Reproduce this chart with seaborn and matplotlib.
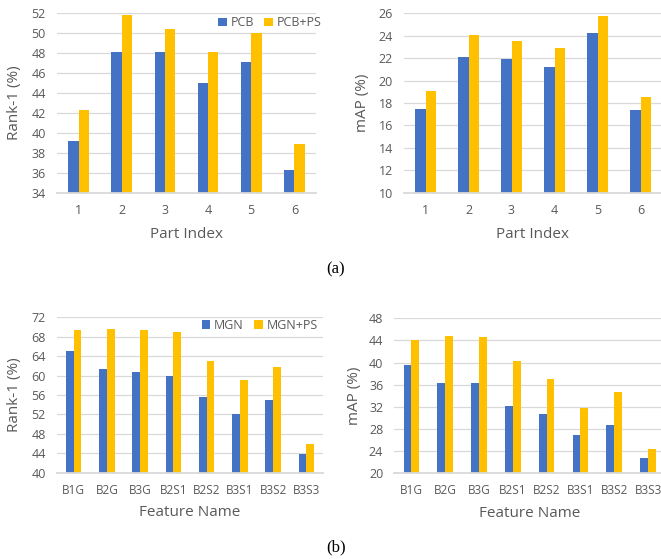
import matplotlib
matplotlib.use("Agg")
import matplotlib.pyplot as plt
import seaborn as sns
import pandas as pd
import numpy as np

# ---- data -------------------------------------------------------------
part_index = ["1", "2", "3", "4", "5", "6"]
pcb_rank1 = [39.2, 48.1, 48.1, 45.0, 47.1, 36.3]
pcb_ps_rank1 = [42.3, 51.8, 50.4, 48.1, 50.0, 38.9]
pcb_map = [17.5, 22.1, 21.9, 21.2, 24.2, 17.4]
pcb_ps_map = [19.1, 24.1, 23.5, 22.9, 25.8, 18.5]

feature_names = ["B1G", "B2G", "B3G", "B2S1", "B2S2", "B3S1", "B3S2", "B3S3"]
mgn_rank1 = [65.0, 61.4, 60.7, 60.0, 55.6, 52.0, 54.9, 43.8]
mgn_ps_rank1 = [69.3, 69.6, 69.3, 68.9, 63.0, 59.0, 61.8, 45.9]
mgn_map = [39.5, 36.3, 36.3, 32.1, 30.7, 26.8, 28.7, 22.7]
mgn_ps_map = [44.1, 44.8, 44.6, 40.3, 37.1, 31.8, 34.6, 24.4]

BLUE = "#4472C4"
GOLD = "#FFC000"
GRID = "#D9D9D9"
TEXT = "#595959"

sns.set_theme(style="white")
plt.rcParams["font.family"] = ["Open Sans", "DejaVu Sans"]


def long_frame(cats, a, b, name_a, name_b):
    return pd.DataFrame({
        "cat": list(cats) * 2,
        "value": list(a) + list(b),
        "method": [name_a] * len(cats) + [name_b] * len(cats),
    })


def draw_panel(ax, df, cats, ylim, ystep, ylabel, xlabel, width,
               ylab_x, xlab_y, xtick_size, legend=None):
    sns.barplot(data=df, x="cat", y="value", hue="method", order=cats,
                palette=[BLUE, GOLD], width=width, gap=0, saturation=1,
                linewidth=0, ax=ax, legend=legend is not None)
    ax.set_xlim(-0.5, len(cats) - 0.5)
    ax.set_ylim(*ylim)
    ax.set_yticks(np.arange(ylim[0], ylim[1] + 0.01, ystep))
    ax.yaxis.grid(True, color=GRID, linewidth=0.9)
    ax.set_axisbelow(True)
    for side in ("top", "right", "left"):
        ax.spines[side].set_visible(False)
    ax.spines["bottom"].set_color(GRID)
    ax.spines["bottom"].set_linewidth(1.3)
    ax.tick_params(axis="both", length=0, labelcolor=TEXT)
    ax.tick_params(axis="y", pad=8, labelsize=9)
    ax.tick_params(axis="x", pad=8, labelsize=xtick_size)
    ax.set_ylabel(ylabel, fontsize=11, color=TEXT)
    ax.set_xlabel(xlabel, fontsize=11, color=TEXT)
    ax.yaxis.set_label_coords(ylab_x, 0.5)
    ax.xaxis.set_label_coords(0.5, xlab_y)
    if legend is not None:
        ax.legend(loc="center right", bbox_to_anchor=legend, ncol=2,
                  frameon=False, fontsize=9, labelcolor=TEXT,
                  handlelength=0.7, handleheight=0.7, handletextpad=0.3,
                  columnspacing=0.8, borderaxespad=0, borderpad=0)


fig = plt.figure(figsize=(6.61, 5.59), dpi=100)
W, H = 661.0, 559.0


def add_axes(left, right, top, bottom):
    return fig.add_axes([left / W, (H - bottom) / H, (right - left) / W,
                         (bottom - top) / H])


ax1 = add_axes(57, 316, 13.3, 192.7)
ax2 = add_axes(404, 662, 13.3, 192.7)
ax3 = add_axes(57, 323, 317.3, 472.7)
ax4 = add_axes(394.4, 665, 318.3, 473)

draw_panel(ax1, long_frame(part_index, pcb_rank1, pcb_ps_rank1, "PCB", "PCB+PS"),
           part_index, (34, 52), 2, "Rank-1 (%)", "Part Index", 0.48,
           -0.135, -0.19, 9, legend=(1.02, 0.946))
draw_panel(ax2, long_frame(part_index, pcb_map, pcb_ps_map, "PCB", "PCB+PS"),
           part_index, (10, 26), 2, "mAP (%)", "Part Index", 0.48,
           -0.132, -0.19, 9)
draw_panel(ax3, long_frame(feature_names, mgn_rank1, mgn_ps_rank1, "MGN", "MGN+PS"),
           feature_names, (40, 72), 4, "Rank-1 (%)", "Feature Name", 0.46,
           -0.132, -0.21, 8.5, legend=(0.98, 0.95))
draw_panel(ax4, long_frame(feature_names, mgn_map, mgn_ps_map, "MGN", "MGN+PS"),
           feature_names, (20, 48), 4, "mAP (%)", "Feature Name", 0.46,
           -0.12, -0.215, 8.5)

fig.text(336 / W, 1 - 269 / H, "(a)", ha="center", va="center",
         family=["Liberation Serif"], fontsize=12, color="black")
fig.text(336.5 / W, 1 - 547 / H, "(b)", ha="center", va="center",
         family=["Liberation Serif"], fontsize=12, color="black")

fig.savefig("out.png", dpi=100)
